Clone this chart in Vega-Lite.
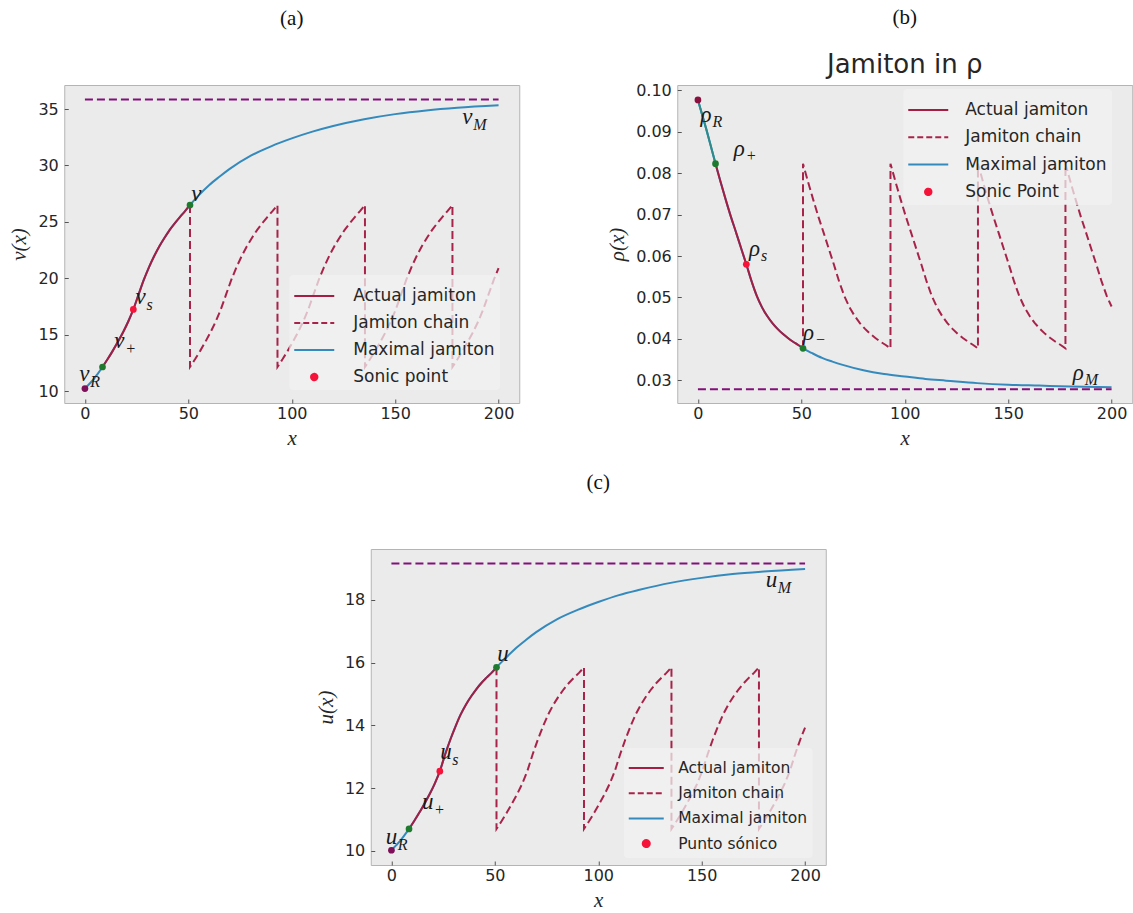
{
  "$schema": "https://vega.github.io/schema/vega-lite/v6.json",
  "padding": {"left": 8, "top": 6, "right": 0, "bottom": 0},
  "background": "white",
  "datasets": {
    "prof": [
      {"x":0,"v":10.24,"r":0.0977,"u":10.02},{"x":2,"v":10.62,"r":0.0942,"u":10.16},{"x":4,"v":11.02,"r":0.0907,"u":10.3},{"x":6,"v":11.5,"r":0.087,"u":10.47},
      {"x":8.5,"v":12.15,"r":0.0823,"u":10.7},{"x":11,"v":12.85,"r":0.0778,"u":10.95},{"x":13.5,"v":13.6,"r":0.0735,"u":11.22},{"x":16,"v":14.4,"r":0.0694,"u":11.51},
      {"x":18.5,"v":15.25,"r":0.0656,"u":11.81},{"x":21,"v":16.2,"r":0.0617,"u":12.15},{"x":23.4,"v":17.25,"r":0.058,"u":12.54},{"x":26,"v":18.6,"r":0.0538,"u":13.08},
      {"x":28.5,"v":19.88,"r":0.0503,"u":13.55},{"x":31,"v":21.0,"r":0.0476,"u":13.97},{"x":33.5,"v":21.98,"r":0.0455,"u":14.35},{"x":36,"v":22.85,"r":0.0438,"u":14.66},
      {"x":38.5,"v":23.6,"r":0.0424,"u":14.92},{"x":41,"v":24.3,"r":0.0412,"u":15.15},{"x":43.5,"v":24.9,"r":0.0402,"u":15.35},{"x":46,"v":25.45,"r":0.0393,"u":15.52},
      {"x":48.5,"v":25.98,"r":0.0385,"u":15.68},{"x":50.8,"v":26.5,"r":0.0377,"u":15.85},{"x":55,"v":27.35,"r":0.0366,"u":16.13},{"x":60,"v":28.25,"r":0.0354,"u":16.45},
      {"x":65,"v":29.0,"r":0.0345,"u":16.72},{"x":70,"v":29.7,"r":0.0337,"u":16.97},{"x":80,"v":30.85,"r":0.0324,"u":17.38},{"x":90,"v":31.7,"r":0.0315,"u":17.68},
      {"x":100,"v":32.4,"r":0.0309,"u":17.93},{"x":110,"v":33.0,"r":0.0303,"u":18.15},{"x":120,"v":33.5,"r":0.0299,"u":18.32},{"x":135,"v":34.1,"r":0.0293,"u":18.54},
      {"x":150,"v":34.55,"r":0.0289,"u":18.7},{"x":165,"v":34.88,"r":0.0287,"u":18.82},{"x":180,"v":35.12,"r":0.0285,"u":18.9},{"x":200,"v":35.34,"r":0.0283,"u":18.98}
    ],
    "chain": [
      {"i":0,"x":50.8,"v":26.5,"r":0.0377,"u":15.85},
      {"i":1,"x":50.8,"v":12.15,"r":0.0823,"u":10.7},{"i":2,"x":53.3,"v":12.85,"r":0.0778,"u":10.95},{"i":3,"x":55.8,"v":13.6,"r":0.0735,"u":11.22},{"i":4,"x":58.3,"v":14.4,"r":0.0694,"u":11.51},
      {"i":5,"x":60.8,"v":15.25,"r":0.0656,"u":11.81},{"i":6,"x":63.3,"v":16.2,"r":0.0617,"u":12.15},{"i":7,"x":65.7,"v":17.25,"r":0.058,"u":12.54},{"i":8,"x":68.3,"v":18.6,"r":0.0538,"u":13.08},
      {"i":9,"x":70.8,"v":19.88,"r":0.0503,"u":13.55},{"i":10,"x":73.3,"v":21.0,"r":0.0476,"u":13.97},{"i":11,"x":75.8,"v":21.98,"r":0.0455,"u":14.35},{"i":12,"x":78.3,"v":22.85,"r":0.0438,"u":14.66},
      {"i":13,"x":80.8,"v":23.6,"r":0.0424,"u":14.92},{"i":14,"x":83.3,"v":24.3,"r":0.0412,"u":15.15},{"i":15,"x":85.8,"v":24.9,"r":0.0402,"u":15.35},{"i":16,"x":88.3,"v":25.45,"r":0.0393,"u":15.52},
      {"i":17,"x":90.8,"v":25.98,"r":0.0385,"u":15.68},{"i":18,"x":93.1,"v":26.5,"r":0.0377,"u":15.85},
      {"i":19,"x":93.1,"v":12.15,"r":0.0823,"u":10.7},{"i":20,"x":95.6,"v":12.85,"r":0.0778,"u":10.95},{"i":21,"x":98.1,"v":13.6,"r":0.0735,"u":11.22},{"i":22,"x":100.6,"v":14.4,"r":0.0694,"u":11.51},
      {"i":23,"x":103.1,"v":15.25,"r":0.0656,"u":11.81},{"i":24,"x":105.6,"v":16.2,"r":0.0617,"u":12.15},{"i":25,"x":108.0,"v":17.25,"r":0.058,"u":12.54},{"i":26,"x":110.6,"v":18.6,"r":0.0538,"u":13.08},
      {"i":27,"x":113.1,"v":19.88,"r":0.0503,"u":13.55},{"i":28,"x":115.6,"v":21.0,"r":0.0476,"u":13.97},{"i":29,"x":118.1,"v":21.98,"r":0.0455,"u":14.35},{"i":30,"x":120.6,"v":22.85,"r":0.0438,"u":14.66},
      {"i":31,"x":123.1,"v":23.6,"r":0.0424,"u":14.92},{"i":32,"x":125.6,"v":24.3,"r":0.0412,"u":15.15},{"i":33,"x":128.1,"v":24.9,"r":0.0402,"u":15.35},{"i":34,"x":130.6,"v":25.45,"r":0.0393,"u":15.52},
      {"i":35,"x":133.1,"v":25.98,"r":0.0385,"u":15.68},{"i":36,"x":135.4,"v":26.5,"r":0.0377,"u":15.85},
      {"i":37,"x":135.4,"v":12.15,"r":0.0823,"u":10.7},{"i":38,"x":137.9,"v":12.85,"r":0.0778,"u":10.95},{"i":39,"x":140.4,"v":13.6,"r":0.0735,"u":11.22},{"i":40,"x":142.9,"v":14.4,"r":0.0694,"u":11.51},
      {"i":41,"x":145.4,"v":15.25,"r":0.0656,"u":11.81},{"i":42,"x":147.9,"v":16.2,"r":0.0617,"u":12.15},{"i":43,"x":150.3,"v":17.25,"r":0.058,"u":12.54},{"i":44,"x":152.9,"v":18.6,"r":0.0538,"u":13.08},
      {"i":45,"x":155.4,"v":19.88,"r":0.0503,"u":13.55},{"i":46,"x":157.9,"v":21.0,"r":0.0476,"u":13.97},{"i":47,"x":160.4,"v":21.98,"r":0.0455,"u":14.35},{"i":48,"x":162.9,"v":22.85,"r":0.0438,"u":14.66},
      {"i":49,"x":165.4,"v":23.6,"r":0.0424,"u":14.92},{"i":50,"x":167.9,"v":24.3,"r":0.0412,"u":15.15},{"i":51,"x":170.4,"v":24.9,"r":0.0402,"u":15.35},{"i":52,"x":172.9,"v":25.45,"r":0.0393,"u":15.52},
      {"i":53,"x":175.4,"v":25.98,"r":0.0385,"u":15.68},{"i":54,"x":177.7,"v":26.5,"r":0.0377,"u":15.85},
      {"i":55,"x":177.7,"v":12.15,"r":0.0823,"u":10.7},{"i":56,"x":180.2,"v":12.85,"r":0.0778,"u":10.95},{"i":57,"x":182.7,"v":13.6,"r":0.0735,"u":11.22},{"i":58,"x":185.2,"v":14.4,"r":0.0694,"u":11.51},
      {"i":59,"x":187.7,"v":15.25,"r":0.0656,"u":11.81},{"i":60,"x":190.2,"v":16.2,"r":0.0617,"u":12.15},{"i":61,"x":192.6,"v":17.25,"r":0.058,"u":12.54},{"i":62,"x":195.2,"v":18.6,"r":0.0538,"u":13.08},
      {"i":63,"x":197.7,"v":19.88,"r":0.0503,"u":13.55},{"i":64,"x":200,"v":20.9,"r":0.0478,"u":13.93}
    ],
    "lvl": [{"x":0,"v":35.85,"r":0.0278,"u":19.16},{"x":200,"v":35.85,"r":0.0278,"u":19.16}],
    "pts": [
      {"k":"R","x":0,"v":10.24,"r":0.0977,"u":10.02},
      {"k":"p","x":8.5,"v":12.15,"r":0.0823,"u":10.7},
      {"k":"s","x":23.4,"v":17.25,"r":0.058,"u":12.54},
      {"k":"m","x":50.8,"v":26.5,"r":0.0377,"u":15.85}
    ],
    "annA": [{"x":-2.8,"v":10.89,"t":"v","s":"R"},{"x":14.2,"v":13.82,"t":"v","s":"+"},{"x":24.4,"v":17.72,"t":"v","s":"s"},{"x":51.4,"v":26.86,"t":"v","s":""},{"x":182.4,"v":33.69,"t":"v","s":"M"}],
    "annB": [{"x":1.2,"r":0.0923,"t":"ρ","s":"R"},{"x":17.3,"r":0.0842,"t":"ρ","s":"+"},{"x":24.7,"r":0.06,"t":"ρ","s":"s"},{"x":50.8,"r":0.0398,"t":"ρ","s":"−"},{"x":181.2,"r":0.03,"t":"ρ","s":"M"}],
    "annC": [{"x":-2.75,"u":10.23,"t":"u","s":"R"},{"x":14.8,"u":11.34,"t":"u","s":"+"},{"x":23.6,"u":12.93,"t":"u","s":"s"},{"x":51.2,"u":16.04,"t":"u","s":""},{"x":181,"u":18.42,"t":"u","s":"M"}]
  },
  "config": {
    "view": {"fill": "#ebebeb", "stroke": "#b4b4b4", "strokeWidth": 1},
    "axis": {"grid": false, "domain": false, "tickSize": -4, "tickColor": "#555555", "tickWidth": 1,
      "labelFont": "DejaVu Sans", "labelFontSize": 16, "labelColor": "#262626",
      "titleFont": "Liberation Serif", "titleFontStyle": "italic", "titleFontWeight": "normal", "titleFontSize": 21, "titleColor": "#262626"},
    "axisX": {"labelPadding": 6, "titlePadding": 6},
    "axisY": {"labelPadding": 10, "titlePadding": 8},
    "title": {"font": "Liberation Serif", "fontSize": 21, "fontWeight": "normal", "color": "#111111", "anchor": "middle", "frame": "group"}
  },
  "center": true,
  "spacing": 22,
  "resolve": {"scale": {"color": "independent"}, "legend": {"color": "independent"}},
  "vconcat": [
    {
      "bounds": "flush",
      "spacing": 158,
      "resolve": {"scale": {"color": "independent"}, "legend": {"color": "independent"}},
      "hconcat": [
        {
          "width": 455, "height": 318,
          "title": {"text": "(a)", "offset": 56},
          "encoding": {
            "x": {"field": "x", "type": "quantitative", "scale": {"domain": [-10, 210], "nice": false, "zero": false}, "axis": {"values": [0, 50, 100, 150, 200], "title": "x"}},
            "y": {"field": "v", "type": "quantitative", "scale": {"domain": [8.96, 37.13], "nice": false, "zero": false}, "axis": {"values": [10, 15, 20, 25, 30, 35], "title": "v(x)"}}
          },
          "layer": [
            {"data": {"name": "prof"}, "mark": {"type": "line", "strokeWidth": 2, "interpolate": "monotone"},
             "encoding": {"color": {"datum": "Maximal jamiton", "scale": {"domain": ["Actual jamiton", "Jamiton chain", "Maximal jamiton", "Sonic point"], "range": ["#a51d42", "#a8234a", "#348abd", "#f5133a"]},
               "legend": {"title": null, "orient": "none", "legendX": 225, "legendY": 190, "padding": 5, "fillColor": "rgba(242,242,242,0.75)", "cornerRadius": 4,
                 "labelFont": "DejaVu Sans", "labelFontSize": 17, "labelColor": "#262626", "symbolSize": 900, "symbolStrokeWidth": 2, "symbolOffset": 4, "labelOffset": 23, "rowPadding": 3,
                 "encode": {"symbols": {"update": {
                   "shape": {"signal": "datum.index === 3 ? 'M0.213,0C0.213,0.1178,0.1178,0.213,0,0.213C-0.1178,0.213,-0.213,0.1178,-0.213,0C-0.213,-0.1178,-0.1178,-0.213,0,-0.213C0.1178,-0.213,0.213,-0.1178,0.213,0Z' : 'M-1.333,0L1.333,0'"},
                   "strokeDash": {"signal": "datum.index === 1 ? [6,3] : [1,0]"},
                   "stroke": {"signal": "['#a51d42','#a8234a','#348abd','#f5133a'][datum.index]"},
                   "fill": {"signal": "['#a51d42','#a8234a','#348abd','#f5133a'][datum.index]"},
                   "opacity": {"value": 1}}}}}}}},
            {"data": {"name": "prof"}, "transform": [{"filter": "datum.x >= 8.5 && datum.x <= 50.8"}], "mark": {"type": "line", "strokeWidth": 2, "interpolate": "monotone"},
             "encoding": {"color": {"datum": "Actual jamiton"}}},
            {"data": {"name": "chain"}, "mark": {"type": "line", "strokeWidth": 2, "strokeDash": [8, 4]},
             "encoding": {"order": {"field": "i", "type": "quantitative"}, "color": {"datum": "Jamiton chain"}}},
            {"data": {"name": "lvl"}, "mark": {"type": "line", "strokeWidth": 2, "strokeDash": [8, 4], "color": "#82107a"}, "encoding": {}},
            {"data": {"name": "pts"}, "transform": [{"filter": "datum.k !== 's'"}], "mark": {"type": "point", "filled": true, "opacity": 1, "size": 45},
             "encoding": {"color": {"condition": {"test": "datum.k === 'R'", "value": "#7d1058"}, "value": "#1e7b2e"}}},
            {"data": {"name": "pts"}, "transform": [{"filter": "datum.k === 's'"}], "mark": {"type": "point", "filled": true, "opacity": 1, "size": 45},
             "encoding": {"color": {"datum": "Sonic point"}}},
            {"data": {"name": "annA"}, "mark": {"type": "text", "align": "left", "baseline": "alphabetic", "font": "Liberation Serif", "fontStyle": "italic", "fontSize": 23, "color": "#1a1a1a"},
             "encoding": {"text": {"field": "t"}}},
            {"data": {"name": "annA"}, "mark": {"type": "text", "align": "left", "baseline": "alphabetic", "font": "Liberation Serif", "fontStyle": "italic", "fontSize": 16, "dx": 11, "dy": 6, "color": "#1a1a1a"},
             "encoding": {"text": {"field": "s"}}}
          ]
        },
        {
          "width": 455, "height": 318,
          "title": {"text": "(b)", "subtitle": "Jamiton in ρ", "subtitleFont": "DejaVu Sans", "subtitleFontSize": 26, "subtitleColor": "#262626", "subtitlePadding": 24, "offset": 4},
          "encoding": {
            "x": {"field": "x", "type": "quantitative", "scale": {"domain": [-10, 210], "nice": false, "zero": false}, "axis": {"values": [0, 50, 100, 150, 200], "title": "x"}},
            "y": {"field": "r", "type": "quantitative", "scale": {"domain": [0.0245, 0.1013], "nice": false, "zero": false}, "axis": {"values": [0.03, 0.04, 0.05, 0.06, 0.07, 0.08, 0.09, 0.1], "format": ".2f", "title": "ρ(x)"}}
          },
          "layer": [
            {"data": {"name": "prof"}, "mark": {"type": "line", "strokeWidth": 2, "interpolate": "monotone"},
             "encoding": {"color": {"datum": "Maximal jamiton", "scale": {"domain": ["Actual jamiton", "Jamiton chain", "Maximal jamiton", "Sonic Point"], "range": ["#a51d42", "#a8234a", "#348abd", "#f5133a"]},
               "legend": {"title": null, "orient": "none", "legendX": 226, "legendY": 4, "padding": 5, "fillColor": "rgba(242,242,242,0.75)", "cornerRadius": 4,
                 "labelFont": "DejaVu Sans", "labelFontSize": 17, "labelColor": "#262626", "symbolSize": 900, "symbolStrokeWidth": 2, "symbolOffset": 4, "labelOffset": 21, "rowPadding": 3.3,
                 "encode": {"symbols": {"update": {
                   "shape": {"signal": "datum.index === 3 ? 'M0.213,0C0.213,0.1178,0.1178,0.213,0,0.213C-0.1178,0.213,-0.213,0.1178,-0.213,0C-0.213,-0.1178,-0.1178,-0.213,0,-0.213C0.1178,-0.213,0.213,-0.1178,0.213,0Z' : 'M-1.333,0L1.333,0'"},
                   "strokeDash": {"signal": "datum.index === 1 ? [6,3] : [1,0]"},
                   "stroke": {"signal": "['#a51d42','#a8234a','#348abd','#f5133a'][datum.index]"},
                   "fill": {"signal": "['#a51d42','#a8234a','#348abd','#f5133a'][datum.index]"},
                   "opacity": {"value": 1}}}}}}}},
            {"data": {"name": "prof"}, "transform": [{"filter": "datum.x <= 8.5"}], "mark": {"type": "line", "strokeWidth": 2, "interpolate": "monotone", "color": "#2e8b8a"}, "encoding": {}},
            {"data": {"name": "prof"}, "transform": [{"filter": "datum.x >= 8.5 && datum.x <= 50.8"}], "mark": {"type": "line", "strokeWidth": 2, "interpolate": "monotone"},
             "encoding": {"color": {"datum": "Actual jamiton"}}},
            {"data": {"name": "chain"}, "mark": {"type": "line", "strokeWidth": 2, "strokeDash": [8, 4]},
             "encoding": {"order": {"field": "i", "type": "quantitative"}, "color": {"datum": "Jamiton chain"}}},
            {"data": {"name": "lvl"}, "mark": {"type": "line", "strokeWidth": 2, "strokeDash": [8, 4], "color": "#82107a"}, "encoding": {}},
            {"data": {"name": "pts"}, "transform": [{"filter": "datum.k !== 's'"}], "mark": {"type": "point", "filled": true, "opacity": 1, "size": 45},
             "encoding": {"color": {"condition": {"test": "datum.k === 'R'", "value": "#8a1040"}, "value": "#1e7b2e"}}},
            {"data": {"name": "pts"}, "transform": [{"filter": "datum.k === 's'"}], "mark": {"type": "point", "filled": true, "opacity": 1, "size": 45},
             "encoding": {"color": {"datum": "Sonic Point"}}},
            {"data": {"name": "annB"}, "mark": {"type": "text", "align": "left", "baseline": "alphabetic", "font": "Liberation Serif", "fontStyle": "italic", "fontSize": 23, "color": "#1a1a1a"},
             "encoding": {"text": {"field": "t"}}},
            {"data": {"name": "annB"}, "mark": {"type": "text", "align": "left", "baseline": "alphabetic", "font": "Liberation Serif", "fontStyle": "italic", "fontSize": 16, "dx": 12, "dy": 5, "color": "#1a1a1a"},
             "encoding": {"text": {"field": "s"}}}
          ]
        }
      ]
    },
    {
      "width": 455, "height": 316,
      "title": {"text": "(c)", "offset": 56},
      "encoding": {
        "x": {"field": "x", "type": "quantitative", "scale": {"domain": [-10, 210], "nice": false, "zero": false}, "axis": {"values": [0, 50, 100, 150, 200], "title": "x"}},
        "y": {"field": "u", "type": "quantitative", "scale": {"domain": [9.55, 19.62], "nice": false, "zero": false}, "axis": {"values": [10, 12, 14, 16, 18], "title": "u(x)"}}
      },
      "layer": [
        {"data": {"name": "prof"}, "mark": {"type": "line", "strokeWidth": 2, "interpolate": "monotone"},
         "encoding": {"color": {"datum": "Maximal jamiton", "scale": {"domain": ["Actual jamiton", "Jamiton chain", "Maximal jamiton", "Punto sónico"], "range": ["#a51d42", "#a8234a", "#348abd", "#f5133a"]},
           "legend": {"title": null, "orient": "none", "legendX": 253, "legendY": 199, "padding": 5, "fillColor": "rgba(242,242,242,0.75)", "cornerRadius": 4,
             "labelFont": "DejaVu Sans", "labelFontSize": 15.5, "labelColor": "#262626", "symbolSize": 784, "symbolStrokeWidth": 2, "symbolOffset": 2.5, "labelOffset": 17, "rowPadding": 1.2,
             "encode": {"symbols": {"update": {
               "shape": {"signal": "datum.index === 3 ? 'M0.25,0C0.25,0.138,0.138,0.25,0,0.25C-0.138,0.25,-0.25,0.138,-0.25,0C-0.25,-0.138,-0.138,-0.25,0,-0.25C0.138,-0.25,0.25,-0.138,0.25,0Z' : 'M-1.25,0L1.25,0'"},
               "strokeDash": {"signal": "datum.index === 1 ? [6,3] : [1,0]"},
               "stroke": {"signal": "['#a51d42','#a8234a','#348abd','#f5133a'][datum.index]"},
               "fill": {"signal": "['#a51d42','#a8234a','#348abd','#f5133a'][datum.index]"},
               "opacity": {"value": 1}}}}}}}},
        {"data": {"name": "prof"}, "transform": [{"filter": "datum.x >= 8.5 && datum.x <= 50.8"}], "mark": {"type": "line", "strokeWidth": 2, "interpolate": "monotone"},
         "encoding": {"color": {"datum": "Actual jamiton"}}},
        {"data": {"name": "chain"}, "mark": {"type": "line", "strokeWidth": 2, "strokeDash": [8, 4]},
         "encoding": {"order": {"field": "i", "type": "quantitative"}, "color": {"datum": "Jamiton chain"}}},
        {"data": {"name": "lvl"}, "mark": {"type": "line", "strokeWidth": 2, "strokeDash": [8, 4], "color": "#82107a"}, "encoding": {}},
        {"data": {"name": "pts"}, "transform": [{"filter": "datum.k !== 's'"}], "mark": {"type": "point", "filled": true, "opacity": 1, "size": 45},
         "encoding": {"color": {"condition": {"test": "datum.k === 'R'", "value": "#7d1058"}, "value": "#1e7b2e"}}},
        {"data": {"name": "pts"}, "transform": [{"filter": "datum.k === 's'"}], "mark": {"type": "point", "filled": true, "opacity": 1, "size": 45},
         "encoding": {"color": {"datum": "Punto sónico"}}},
        {"data": {"name": "annC"}, "mark": {"type": "text", "align": "left", "baseline": "alphabetic", "font": "Liberation Serif", "fontStyle": "italic", "fontSize": 23, "color": "#1a1a1a"},
         "encoding": {"text": {"field": "t"}}},
        {"data": {"name": "annC"}, "mark": {"type": "text", "align": "left", "baseline": "alphabetic", "font": "Liberation Serif", "fontStyle": "italic", "fontSize": 16, "dx": 12, "dy": 6, "color": "#1a1a1a"},
         "encoding": {"text": {"field": "s"}}}
      ]
    }
  ]
}
